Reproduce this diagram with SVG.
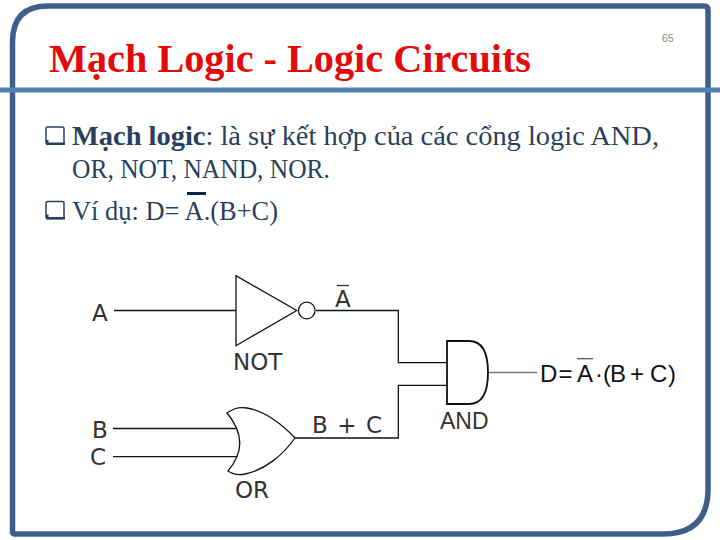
<svg xmlns="http://www.w3.org/2000/svg" width="720" height="540" viewBox="0 0 720 540">
<style>
.wire{fill:none;stroke:#111;stroke-width:1.300}
.gate{fill:#fff;stroke:#111;stroke-width:1.300}
.lbl{font-family:"DejaVu Sans",sans-serif;font-size:23px;fill:#333}
.eq{font-family:"Liberation Sans",Arial,sans-serif;font-size:24px;fill:#111}
.body{font-family:"Liberation Serif","Times New Roman",serif;font-size:28px;fill:#2a3f5c}
.bullet{fill:#fff;stroke:#2a3f5c;stroke-width:1.500}
</style>
<rect width="720" height="540" fill="#fff"/>
<path id="frame" d="M12.500 534V42Q12.500 6 48 6H704Q708 6 708 10V489Q708 534 663 534H15Q12.500 534 12.500 531" fill="none" stroke="#3f5f8a" stroke-width="5.500"/>
<rect id="rule" x="0" y="87.500" width="720" height="5" fill="#5180b5"/>
<text x="49" y="72" font-family="Liberation Serif,serif" font-size="39" font-weight="bold" fill="#e30a0a" textLength="482" lengthAdjust="spacingAndGlyphs">Mạch Logic - Logic Circuits</text>
<text x="662" y="42" font-family="Liberation Sans,sans-serif" font-size="10.500" fill="#888">65</text>
<g id="bullets">
<rect x="46" y="127" width="18" height="17" rx="1.500" class="bullet"/><path d="M46 145h19v-2.500h-16.500v-2.500h-2.500z" fill="#2a3f5c"/>
<rect x="46" y="201.500" width="18" height="17" rx="1.500" class="bullet"/><path d="M46 219.500h19v-2.500h-16.500v-2.500h-2.500z" fill="#2a3f5c"/>
</g>
<text class="body" x="72" y="145" textLength="587" lengthAdjust="spacingAndGlyphs"><tspan font-weight="bold">Mạch logic</tspan>: là sự kết hợp của các cổng logic AND,</text>
<text class="body" x="72" y="178" textLength="258" lengthAdjust="spacingAndGlyphs">OR, NOT, NAND, NOR.</text>
<text class="body" x="72" y="220" textLength="206" lengthAdjust="spacingAndGlyphs">Ví dụ: D= A.(B+C)</text>
<rect x="187" y="192" width="19" height="3" fill="#0f2550"/>
<g id="connectors">
<path class="wire" d="M114 310.500H236"/>
<path class="wire" d="M316 310.500H398.300V362.700H447"/>
<path class="wire" style="stroke-width:1.700" d="M113 428.500H236"/>
<path class="wire" d="M113 456.700H238"/>
<path class="wire" d="M295 438H398.300V385.300H447"/>
<path d="M488 372.500H537" fill="none" stroke="#777" stroke-width="1.300"/>
</g>
<g id="not"><path class="gate" d="M236 275.700V345.700L296.700 310.500Z"/><circle class="gate" cx="306.800" cy="310.500" r="8.300"/></g>
<g id="or"><path class="gate" d="M227 413Q236 406 247 408C265 411 283 425 295 438C283 455 265 470 245 474Q235 476 228 471Q252 443 227 413Z"/></g>
<g id="and"><path class="gate" style="stroke-width:1.800" d="M447 341H469Q488 341 488 372.500Q488 404 469 404H447Z"/></g>
<g id="labels">
<text class="lbl" x="92" y="321">A</text>
<text class="lbl" x="335" y="307">A</text><path d="M337 285.500H349" stroke="#333" stroke-width="1.300"/>
<text class="lbl" x="233" y="370">NOT</text>
<text class="lbl" x="92" y="438">B</text>
<text class="lbl" x="90" y="465">C</text>
<text class="lbl" x="312" y="433" textLength="70">B + C</text>
<text class="lbl" x="235" y="498">OR</text>
<text class="lbl" style="font-family:'Liberation Sans',Arial,sans-serif" x="440" y="429">AND</text>
<text class="eq" x="540" y="381.700">D</text><text class="eq" x="558.500" y="381.700">=</text><text class="eq" x="577" y="381.700">A</text><text class="eq" x="595" y="381.700">·</text><text class="eq" x="603" y="381.700">(</text><text class="eq" x="610" y="381.700">B</text><text class="eq" x="630" y="381.700">+</text><text class="eq" x="650" y="381.700">C</text><text class="eq" x="668" y="381.700">)</text>
<path d="M577 358.700H593" stroke="#555" stroke-width="1.300"/>
</g>
</svg>
